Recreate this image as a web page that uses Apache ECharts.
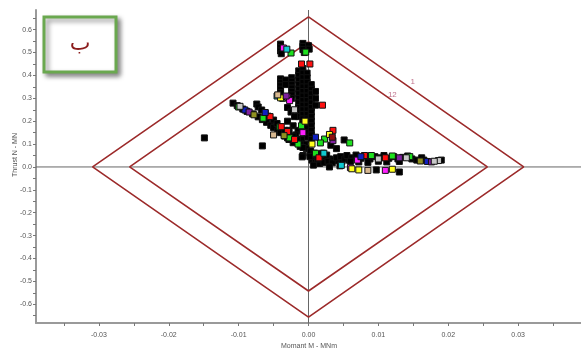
<!DOCTYPE html>
<html><head><meta charset="utf-8">
<script src="https://cdn.jsdelivr.net/npm/echarts@6/dist/echarts.min.js"></script>
<style>html,body{margin:0;padding:0;background:#fff}#c{width:581px;height:350px}</style>
</head><body><div id="c"></div>
<script>
// ---- data ----
const xTickValues = [-0.035,-0.03,-0.025,-0.02,-0.015,-0.01,-0.005,0,0.005,0.01,0.015,0.02,0.025,0.03,0.035];
const xLabelValues = [-0.03,-0.02,-0.01,0,0.01,0.02,0.03];
const yTickValues = [-0.65,-0.6,-0.55,-0.5,-0.45,-0.4,-0.35,-0.3,-0.25,-0.2,-0.15,-0.1,-0.05,0,0.05,0.1,0.15,0.2,0.25,0.3,0.35,0.4,0.45,0.5,0.55,0.6,0.65];
const yLabelValues = [-0.6,-0.5,-0.4,-0.3,-0.2,-0.1,0,0.1,0.2,0.3,0.4,0.5,0.6];

const outerDiamond = [[0,0.656],[0.0308,0],[0,-0.656],[-0.0309,0],[0,0.656]];
const innerDiamond = [[0,0.547],[0.0256,0],[0,-0.542],[-0.0256,0],[0,0.547]];
const curveLabels = [[0.0149,0.371,'1'],[0.0120,0.314,'12']];

const ptsBlack = [
 [-0.0040,0.537],[-0.0040,0.522],[-0.0040,0.507],[-0.0039,0.495],
 [-0.0008,0.540],[-0.0008,0.527],[-0.0008,0.513],[-0.0006,0.500],[0.0000,0.530],[0.0001,0.515],
 [-0.0040,0.385],[-0.0040,0.370],[-0.0040,0.355],[-0.0040,0.340],[-0.0040,0.325],[-0.0033,0.380],[-0.0033,0.360],
 [-0.0024,0.390],[-0.0024,0.375],[-0.0024,0.360],[-0.0024,0.345],[-0.0024,0.330],[-0.0024,0.315],[-0.0024,0.300],
 [-0.0014,0.420],[-0.0014,0.400],[-0.0014,0.380],[-0.0014,0.360],[-0.0014,0.340],[-0.0014,0.320],[-0.0014,0.300],[-0.0014,0.280],[-0.0014,0.260],[-0.0014,0.240],[-0.0014,0.220],
 [-0.0008,0.430],[-0.0008,0.410],[-0.0008,0.390],[-0.0008,0.370],[-0.0008,0.350],[-0.0008,0.330],[-0.0008,0.310],[-0.0008,0.290],[-0.0008,0.270],[-0.0008,0.250],[-0.0008,0.230],[-0.0008,0.210],[-0.0008,0.190],[-0.0008,0.170],
 [-0.0002,0.410],[-0.0002,0.390],[-0.0002,0.370],[-0.0002,0.350],[-0.0002,0.330],[-0.0002,0.310],[-0.0002,0.290],[-0.0002,0.270],[-0.0002,0.250],[-0.0002,0.230],[-0.0002,0.210],[-0.0002,0.190],[-0.0002,0.170],[-0.0002,0.150],[-0.0002,0.130],
 [0.0004,0.360],[0.0004,0.340],[0.0004,0.320],[0.0004,0.300],[0.0004,0.280],[0.0004,0.260],[0.0004,0.240],[0.0004,0.220],[0.0004,0.200],[0.0004,0.180],[0.0004,0.160],[0.0004,0.140],[0.0004,0.120],
 [0.0010,0.330],[0.0010,0.300],[0.0010,0.270],
 [-0.0030,0.260],[-0.0025,0.240],[-0.0020,0.220],[-0.0030,0.200],[-0.0022,0.180],[-0.0015,0.160],[-0.0028,0.160],[-0.0018,0.140],[-0.0010,0.120],[-0.0005,0.100],[-0.0012,0.090],[-0.0003,0.080],[0.0002,0.060],[-0.0008,0.050],
 [-0.0108,0.279],[-0.0102,0.268],[-0.0094,0.253],[-0.0088,0.243],[-0.0080,0.232],[-0.0072,0.219],[-0.0066,0.207],[-0.0060,0.195],[-0.0054,0.182],[-0.0050,0.172],[-0.0044,0.158],[-0.0040,0.150],[-0.0034,0.135],[-0.0028,0.120],[-0.0022,0.106],
 [-0.0074,0.275],[-0.0072,0.262],[-0.0067,0.249],[-0.0062,0.236],[-0.0058,0.222],[-0.0050,0.205],[-0.0045,0.190],[-0.0040,0.176],[-0.0034,0.160],[-0.0028,0.150],[-0.0022,0.135],[-0.0016,0.118],[-0.0012,0.100],[-0.0008,0.085],
 [-0.0149,0.127],[-0.0066,0.092],[-0.0009,0.044],[-0.0030,0.127],
 [0.0003,0.070],[0.0008,0.060],[0.0013,0.050],[0.0018,0.045],[0.0024,0.040],[0.0030,0.035],[0.0036,0.030],[0.0042,0.028],[0.0048,0.025],[0.0005,0.030],[0.0010,0.020],[0.0016,0.015],[0.0022,0.020],[0.0028,0.025],[0.0034,0.018],[0.0040,0.040],[0.0046,0.045],[0.0052,0.035],[0.0058,0.030],[0.0002,0.045],[0.0007,0.008],[0.0013,0.035],[0.0020,0.060],[0.0026,0.052],
 [0.0051,0.118],[0.0040,0.080],[0.0032,0.095],
 [0.0055,0.050],[0.0062,0.040],[0.0068,0.052],[0.0075,0.038],[0.0082,0.048],[0.0088,0.035],[0.0095,0.045],[0.0102,0.040],[0.0108,0.050],[0.0115,0.038],[0.0122,0.045],[0.0128,0.035],[0.0135,0.042],[0.0142,0.048],[0.0148,0.035],[0.0155,0.030],[0.0162,0.040],[0.0165,0.030],[0.0060,0.025],[0.0072,0.022],[0.0085,0.020],[0.0100,0.025],[0.0112,0.022],[0.0130,0.024],
 [0.0097,-0.013],[0.0130,-0.022],[0.0030,0.000],[0.0045,0.005],[0.0190,0.030]
];
const ptsGreen = [[-0.0025,0.498],[-0.0004,0.502],[-0.0037,0.300],[-0.0100,0.262],[-0.0065,0.213],[-0.0041,0.175],[-0.0027,0.127],[0.0023,0.122],[0.0017,0.105],[0.0059,0.105],[0.0090,0.050],[0.0120,0.048],[0.0145,0.045],[-0.0015,0.100],[0.0010,0.060],[-0.0010,0.180]];
const ptsRed = [[-0.0010,0.450],[0.0002,0.450],[0.0020,0.270],[-0.0055,0.220],[-0.0039,0.176],[-0.0030,0.155],[0.0035,0.160],[0.0080,0.050],[0.0110,0.040],[0.0015,0.040],[-0.0020,0.120]];
const ptsMagenta = [[-0.0036,0.520],[-0.0030,0.305],[-0.0027,0.290],[0.0060,-0.003],[0.0110,-0.015],[-0.0008,0.150],[0.0070,0.030]];
const ptsCyan = [[-0.0031,0.515],[0.0047,0.007],[-0.0045,0.310],[0.0022,0.060]];
const ptsYellow = [[-0.0040,0.302],[0.0062,-0.008],[0.0072,-0.013],[0.0120,-0.010],[0.0030,0.142],[-0.0005,0.200],[0.0005,0.100]];
const ptsBlue = [[-0.0091,0.249],[-0.0062,0.238],[0.0170,0.024],[0.0010,0.130],[0.0075,0.045]];
const ptsPurple = [[-0.0085,0.240],[-0.0032,0.310],[0.0176,0.022],[0.0035,0.115],[0.0130,0.040]];
const ptsOlive = [[-0.0078,0.228],[0.0160,0.026],[-0.0035,0.137]];
const ptsGray = [[0.0186,0.028],[0.0180,0.025],[-0.0098,0.265],[0.0100,0.035],[0.0140,0.040],[-0.0020,0.250]];
const ptsTan = [[-0.0044,0.315],[0.0085,-0.015],[-0.0050,0.140]];
const ptsDarkRed = [[0.0034,0.130]];

const X_MIN = -0.039, X_MAX = 0.039, Y_MIN = -0.682, Y_MAX = 0.686;

// ---- chart ----
const chart = echarts.init(document.getElementById('c'), null, {renderer:'canvas'});
const font = 'Liberation Sans, Arial, sans-serif';
function pts(data, color){
  return {type:'scatter', data:data, symbol:'rect', symbolSize:6,
    itemStyle:{color:color, borderColor:'#111', borderWidth:1, opacity:1},
    z:5, silent:true, animation:false};
}
const lineStyleD = {color:'#9c2a2a', width:1.6};
chart.setOption({
  animation:false,
  grid:{left:36, right:0, top:10, bottom:27},
  xAxis:{type:'value', min:X_MIN, max:X_MAX, position:'bottom',
    axisLine:{onZero:false, lineStyle:{color:'#9a9a9a', width:2}},
    axisTick:{customValues:xTickValues, length:3, lineStyle:{color:'#777'}},
    axisLabel:{customValues:xLabelValues, formatter:v=>v.toFixed(2), fontSize:7, color:'#555', fontFamily:font, margin:9},
    splitLine:{show:false}},
  yAxis:{type:'value', min:Y_MIN, max:Y_MAX,
    axisLine:{onZero:false, lineStyle:{color:'#9a9a9a', width:2}},
    axisTick:{customValues:yTickValues, length:3, lineStyle:{color:'#777'}},
    axisLabel:{customValues:yLabelValues, formatter:v=>v.toFixed(1), fontSize:7, color:'#555', fontFamily:font, margin:4},
    splitLine:{show:false}},
  graphic:[
    {type:'rect', shape:{x:44,y:17,width:72,height:55}, style:{fill:'#fff', stroke:'#6aa84f', lineWidth:3, shadowBlur:5, shadowOffsetX:3, shadowOffsetY:3, shadowColor:'rgba(0,0,0,0.45)'}, z:10},
    {type:'text', x:80, y:44, style:{text:'ب', fill:'#8b1c1c', font:'22px "DejaVu Sans"', align:'center', verticalAlign:'middle'}, z:11},
    {type:'text', x:15, y:155, rotation:Math.PI/2, style:{text:'Thrust N - MN', fill:'#555', font:'7px '+font, align:'center', verticalAlign:'middle'}},
    {type:'text', x:309, y:346, style:{text:'Momant M - MNm', fill:'#555', font:'7px '+font, align:'center', verticalAlign:'middle'}}
  ],
  series:[
    {type:'line', data:[[X_MIN,0],[X_MAX,0]], showSymbol:false, lineStyle:{color:'#666', width:1}, z:1, silent:true},
    {type:'line', data:[[0,Y_MIN],[0,Y_MAX]], showSymbol:false, lineStyle:{color:'#666', width:1}, z:1, silent:true},
    {type:'line', data:outerDiamond, showSymbol:false, lineStyle:lineStyleD, z:2, silent:true},
    {type:'line', data:innerDiamond, showSymbol:false, lineStyle:lineStyleD, z:2, silent:true},
    pts(ptsBlack,'#000'),
    pts(ptsGreen,'#1ee01e'),
    pts(ptsRed,'#ff1010'),
    pts(ptsMagenta,'#ff20ff'),
    pts(ptsCyan,'#10c8d0'),
    pts(ptsYellow,'#ffff20'),
    pts(ptsBlue,'#1020c0'),
    pts(ptsPurple,'#8020a0'),
    pts(ptsOlive,'#909020'),
    pts(ptsGray,'#c8c8c8'),
    pts(ptsTan,'#d8b890'),
    pts(ptsDarkRed,'#901010'),
    {type:'scatter', data:curveLabels, symbolSize:0, silent:true, z:6,
     label:{show:true, formatter:p=>p.data[2], color:'#b05070', fontSize:8, fontFamily:font, position:'inside'}}
  ]
});
</script>
</body></html>
